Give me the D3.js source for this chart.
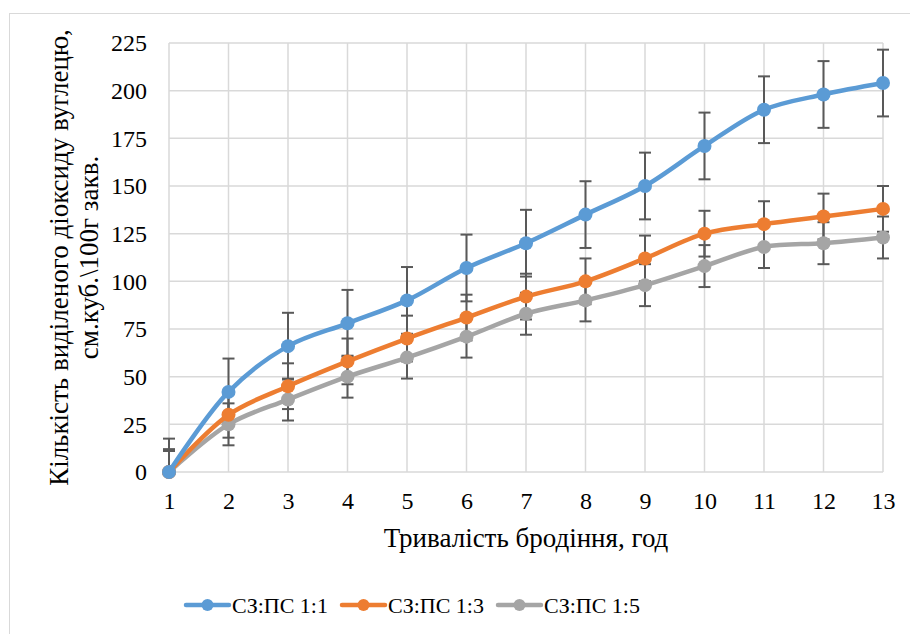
<!DOCTYPE html>
<html>
<head>
    <meta charset="UTF-8">
    <title>Кількість виділеного діоксиду вуглецю</title>
    <script src="https://d3js.org/d3.v7.min.js"></script>
</head>
<body style="margin:0">
    <svg width="910" height="634"></svg>

    <script>
        // Chart data
        const hours = [1, 2, 3, 4, 5, 6, 7, 8, 9, 10, 11, 12, 13];
        const seriesNames = ["СЗ:ПС 1:1", "СЗ:ПС 1:3", "СЗ:ПС 1:5"];
        const series11 = [0, 42, 66, 78, 90, 107, 120, 135, 150, 171, 190, 198, 204];
        const series13 = [0, 30, 45, 58, 70, 81, 92, 100, 112, 125, 130, 134, 138];
        const series15 = [0, 25, 38, 50, 60, 71, 83, 90, 98, 108, 118, 120, 123];
        const errors = [17.5, 12, 11];
        const yTicks = [0, 25, 50, 75, 100, 125, 150, 175, 200, 225];
        const colors = ["#5B9BD5", "#ED7D31", "#A5A5A5"];

        const FONT = "Liberation Serif";

        const allSeries = [series11, series13, series15].map((vals, i) => ({
            name: seriesNames[i],
            color: colors[i],
            err: errors[i],
            values: vals.map((v, j) => ({ x: hours[j], y: v }))
        }));

        // Set up chart dimensions and margins
        const margin = { top: 43, left: 169 },
              width = 883 - margin.left,
              height = 472 - margin.top;

        const root = d3.select("svg");

        // outer chart border
        root.append("rect")
            .attr("x", 9.5).attr("y", 13.5)
            .attr("width", 910).attr("height", 640)
            .attr("fill", "none")
            .attr("stroke", "#d9d9d9")
            .attr("stroke-width", 1);

        const svg = root.append("g")
                        .attr("transform", `translate(${margin.left},${margin.top})`);

        // Set up scales
        const xScale = d3.scaleLinear().domain([1, 13]).range([0, width]);
        const yScale = d3.scaleLinear().domain([0, 225]).range([height, 0]);

        // Grid lines
        svg.append("g")
           .selectAll("line")
           .data(yTicks)
           .enter()
           .append("line")
           .attr("x1", 0).attr("x2", width)
           .attr("y1", d => yScale(d)).attr("y2", d => yScale(d))
           .attr("stroke", "#d9d9d9").attr("stroke-width", 1.5);

        svg.append("g")
           .selectAll("line")
           .data(hours)
           .enter()
           .append("line")
           .attr("y1", 0).attr("y2", height)
           .attr("x1", d => xScale(d)).attr("x2", d => xScale(d))
           .attr("stroke", "#d9d9d9").attr("stroke-width", 1.5);

        // Axes (labels only)
        const yAxis = svg.append("g")
           .call(d3.axisLeft(yScale).tickValues(yTicks).tickSize(0).tickPadding(22));
        yAxis.select(".domain").remove();
        yAxis.selectAll("text")
             .attr("font-family", FONT).attr("font-size", 24).attr("fill", "#000");

        const xAxis = svg.append("g")
           .attr("transform", `translate(0, ${height})`)
           .call(d3.axisBottom(xScale).tickValues(hours).tickFormat(d3.format("d")).tickSize(0).tickPadding(20));
        xAxis.select(".domain").remove();
        xAxis.selectAll("text")
             .attr("font-family", FONT).attr("font-size", 24).attr("fill", "#000");

        // Clip error bars to plot area
        root.append("defs").append("clipPath").attr("id", "plot-clip")
            .append("rect").attr("x", -10).attr("y", -5)
            .attr("width", width + 20).attr("height", height + 5);

        // Error bars
        const errG = svg.append("g").attr("clip-path", "url(#plot-clip)");
        allSeries.forEach(s => {
            const g = errG.append("g");
            s.values.forEach(d => {
                const cx = xScale(d.x);
                const top = yScale(d.y + s.err), bot = yScale(d.y - s.err);
                g.append("line").attr("x1", cx).attr("x2", cx).attr("y1", top).attr("y2", bot)
                 .attr("stroke", "#595959").attr("stroke-width", 2);
                [top, bot].forEach(yy => {
                    g.append("line").attr("x1", cx - 6).attr("x2", cx + 6).attr("y1", yy).attr("y2", yy)
                     .attr("stroke", "#595959").attr("stroke-width", 2);
                });
            });
        });

        // Lines and markers, drawn last series first so blue sits on top
        const line = d3.line()
                       .x(d => xScale(d.x))
                       .y(d => yScale(d.y))
                       .curve(d3.curveCatmullRom.alpha(0.5));

        allSeries.slice().reverse().forEach(s => {
            svg.append("path")
               .datum(s.values)
               .attr("d", line)
               .attr("fill", "none")
               .attr("stroke", s.color)
               .attr("stroke-width", 4.5)
               .attr("stroke-linejoin", "round");

            svg.selectAll(null)
               .data(s.values)
               .enter()
               .append("circle")
               .attr("cx", d => xScale(d.x))
               .attr("cy", d => yScale(d.y))
               .attr("r", 7)
               .attr("fill", s.color);
        });

        // Axis titles
        svg.append("text")
           .attr("x", width / 2)
           .attr("y", height + 75)
           .attr("text-anchor", "middle")
           .attr("font-family", FONT).attr("font-size", 27)
           .text("Тривалість бродіння, год");

        const yTitle = root.append("text")
           .attr("transform", `translate(68, ${margin.top + height / 2}) rotate(-90)`)
           .attr("text-anchor", "middle")
           .attr("font-family", FONT).attr("font-size", 27);
        yTitle.append("tspan").attr("x", 0).attr("dy", 0).text("Кількість виділеного діоксиду вуглецю,");
        yTitle.append("tspan").attr("x", 0).attr("dy", 30).text("см.куб.\\100г закв.");

        // Legend
        const legendX = [186, 342, 498];
        const legend = root.append("g").attr("transform", "translate(0, 605)");
        allSeries.forEach((s, i) => {
            const g = legend.append("g").attr("transform", `translate(${legendX[i]}, 0)`);
            g.append("line").attr("x1", 0).attr("x2", 43).attr("y1", 0).attr("y2", 0)
             .attr("stroke", s.color).attr("stroke-width", 4.5).attr("stroke-linecap", "round");
            g.append("circle").attr("cx", 21.5).attr("cy", 0).attr("r", 6).attr("fill", s.color);
            g.append("text").attr("x", 46).attr("y", 7.5)
             .attr("font-family", FONT).attr("font-size", 22)
             .text(s.name);
        });
    </script>
</body>
</html>
